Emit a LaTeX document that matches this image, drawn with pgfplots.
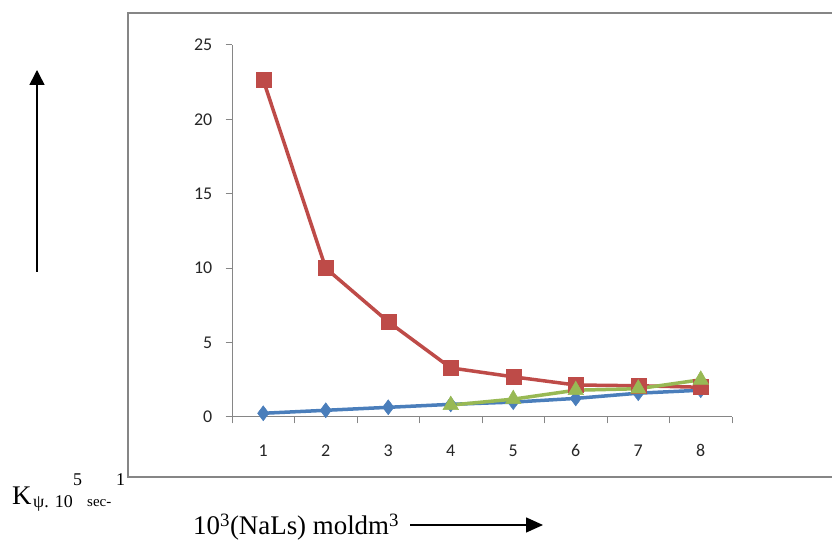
\documentclass[border=0pt]{standalone}
\usepackage{fontspec}
\setmainfont{Liberation Serif}
\newfontfamily\calibri{Carlito}
\usepackage{pgfplots}
\pgfplotsset{compat=1.18}
\usetikzlibrary{arrows.meta}
\definecolor{xblue}{HTML}{4A7EBB}
\definecolor{xred}{HTML}{BE4B48}
\definecolor{xgreen}{HTML}{98B954}
\definecolor{axgray}{HTML}{868686}
\begin{document}
\begin{tikzpicture}[x=1bp,y=1bp]
\useasboundingbox (0,0) rectangle (832,541);
\begin{scope}
\clip (0,0) rectangle (832,541);
\draw[axgray, line width=1.5bp] (128,64) rectangle (850,528);
\end{scope}
\begin{axis}[
  at={(232bp,124bp)}, anchor=south west,
  scale only axis, width=500bp, height=372bp,
  xmin=0.5, xmax=8.5, ymin=0, ymax=25,
  axis x line*=bottom, axis y line*=left,
  axis line style={axgray, line width=1bp},
  tick style={axgray, line width=1bp},
  tick align=outside,
  major tick length=6.5bp, minor tick length=6.5bp,
  xtick={1,...,8},
  major x tick style={draw=none},
  minor xtick={0.5,1.5,...,8.5},
  ytick={0,5,...,25},
  /pgf/number format/assume math mode=true,
  ticklabel style={font=\calibri\fontsize{18}{20}\selectfont, text=black!85},
  xticklabel style={inner sep=0pt, yshift=-21bp},
  yticklabel style={inner sep=0pt, xshift=-13bp},
]
\addplot[xblue, line width=3.5bp, mark=diamond*, mark size=7.5bp, mark options={fill=xblue, draw=xblue, line width=0.5bp}]
  coordinates {(1,0.25)(2,0.45)(3,0.65)(4,0.85)(5,1.0)(6,1.25)(7,1.6)(8,1.8)};
\addplot[xred, line width=3.5bp, mark=square*, mark size=7.5bp, mark options={fill=xred, draw=xred, line width=0.5bp}]
  coordinates {(1,22.65)(2,10.0)(3,6.4)(4,3.3)(5,2.7)(6,2.15)(7,2.1)(8,2.0)};
\addplot[xgreen, line width=3.5bp, mark=triangle*, mark size=9bp, mark options={fill=xgreen, draw=xgreen, line width=0.5bp}]
  coordinates {(4,0.8)(5,1.2)(6,1.8)(7,1.9)(8,2.5)};
\end{axis}
\draw[line width=1.5bp, -{Triangle[length=15bp,width=15bp]}] (37,269) -- (37,471);
\draw[line width=1.5bp, -{Triangle[length=17bp,width=15bp]}] (410,16) -- (543,16);
\node[anchor=base west, inner sep=0pt, font=\fontsize{27}{30}\selectfont] at (12,36) {K};
\node[anchor=base west, inner sep=0pt, font=\fontsize{18}{20}\selectfont] at (33,33) {ψ. 10};
\node[anchor=base west, inner sep=0pt, font=\fontsize{18}{20}\selectfont] at (73,55) {5};
\node[anchor=base west, inner sep=0pt, font=\fontsize{15}{18}\selectfont] at (87,34) {sec-};
\node[anchor=base west, inner sep=0pt, font=\fontsize{18}{20}\selectfont] at (116,55) {1};
\node[anchor=base west, inner sep=0pt, font=\fontsize{27}{30}\selectfont] at (193,6) {10\textsuperscript{3}(NaLs) moldm\textsuperscript{3}};
\end{tikzpicture}
\end{document}
